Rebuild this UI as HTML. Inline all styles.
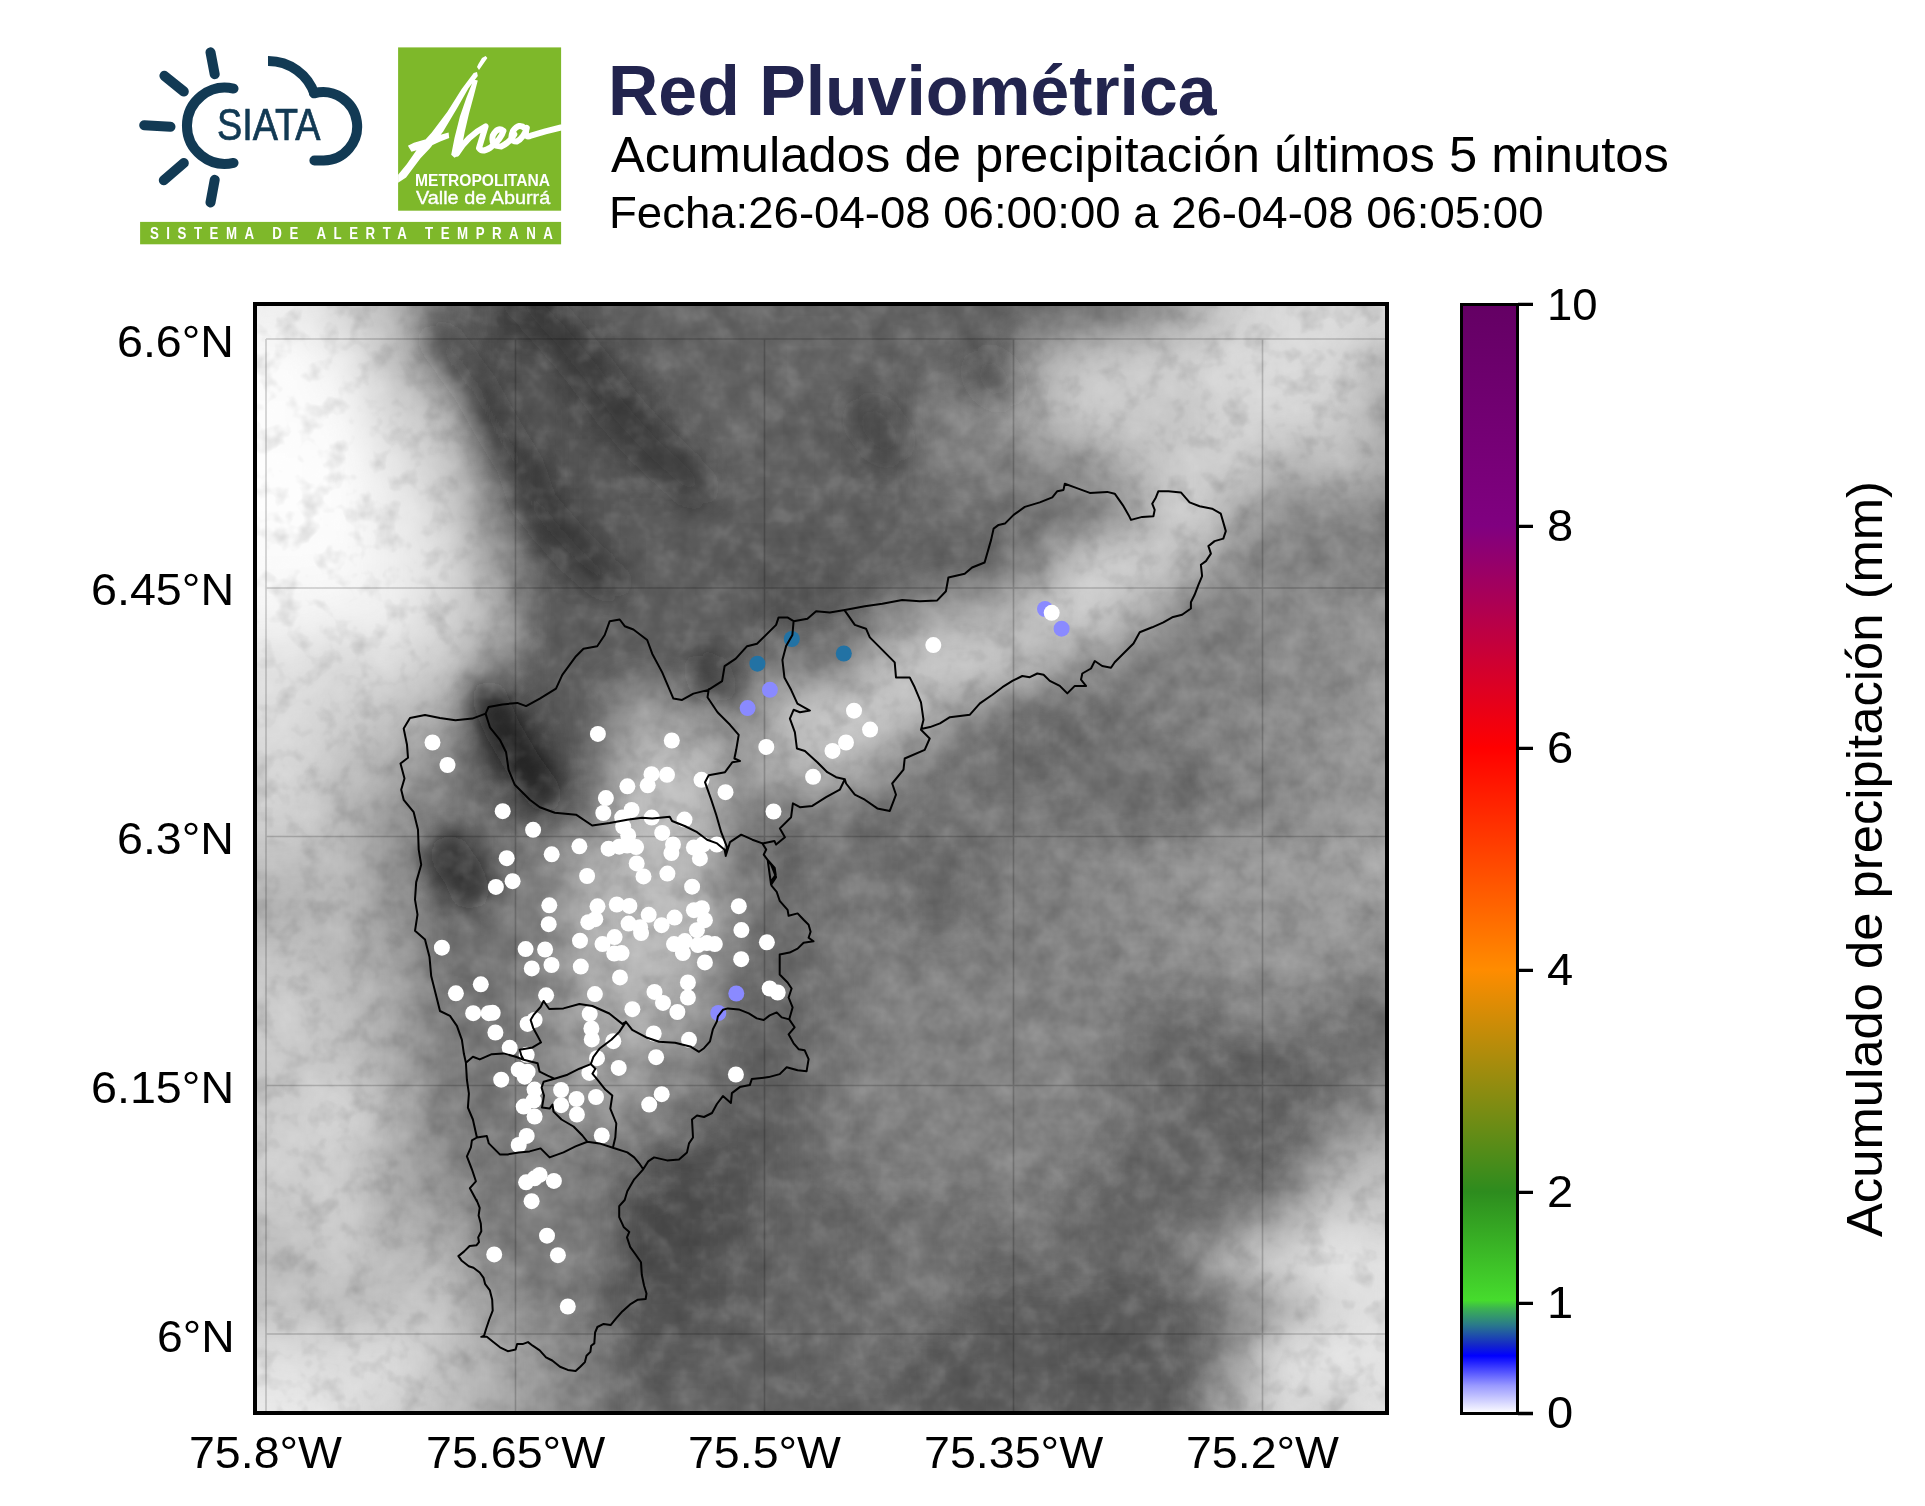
<!DOCTYPE html>
<html><head><meta charset="utf-8"><title>Red Pluviométrica</title>
<style>
html,body{margin:0;padding:0;background:#fff}
body{width:1925px;height:1506px;position:relative;overflow:hidden;font-family:"Liberation Sans",sans-serif}
.t{position:absolute;white-space:nowrap;transform-origin:0 0;font-family:"Liberation Sans",sans-serif}
svg{position:absolute;left:0;top:0}
</style></head><body>

<div class="t" style="left:608.00px;top:56.24px;font-size:70.00px;line-height:70.00px;color:#22244e;font-weight:bold;transform:scaleX(0.9963)">Red Pluviométrica</div>
<div class="t" style="left:611.00px;top:130.18px;font-size:50.00px;line-height:50.00px;color:#000;transform:scaleX(1.0151)">Acumulados de precipitación últimos 5 minutos</div>
<div class="t" style="left:609.00px;top:191.33px;font-size:44.50px;line-height:44.50px;color:#000;transform:scaleX(1.0236)">Fecha:26-04-08 06:00:00 a 26-04-08 06:05:00</div>
<svg width="1925" height="1506" viewBox="0 0 1925 1506">

<defs><clipPath id="mc"><rect x="255" y="304" width="1132" height="1109"/></clipPath><filter id="tb" x="-5%" y="-5%" width="110%" height="110%"><feGaussianBlur stdDeviation="20"/></filter><filter id="fb" x="-20%" y="-20%" width="140%" height="140%"><feGaussianBlur stdDeviation="14"/></filter></defs>
<g clip-path="url(#mc)"><g filter="url(#tb)" shape-rendering="crispEdges">
<rect x="166.4" y="239.5" width="100.2" height="50.4" fill="#f0f0f0"/>
<rect x="266.0" y="239.5" width="50.4" height="50.4" fill="#eeeeee"/>
<rect x="315.8" y="239.5" width="50.4" height="50.4" fill="#d7d7d7"/>
<rect x="365.6" y="239.5" width="50.4" height="50.4" fill="#b9b9b9"/>
<rect x="415.4" y="239.5" width="50.4" height="50.4" fill="#696969"/>
<rect x="465.2" y="239.5" width="50.4" height="50.4" fill="#464646"/>
<rect x="515.0" y="239.5" width="50.4" height="50.4" fill="#414141"/>
<rect x="564.8" y="239.5" width="50.4" height="50.4" fill="#5f5f5f"/>
<rect x="614.6" y="239.5" width="399.0" height="50.4" fill="#646464"/>
<rect x="1013.0" y="239.5" width="50.4" height="50.4" fill="#696969"/>
<rect x="1062.8" y="239.5" width="50.4" height="50.4" fill="#6e6e6e"/>
<rect x="1112.6" y="239.5" width="50.4" height="50.4" fill="#828282"/>
<rect x="1162.4" y="239.5" width="50.4" height="50.4" fill="#a5a5a5"/>
<rect x="1212.2" y="239.5" width="50.4" height="50.4" fill="#cdcdcd"/>
<rect x="1262.0" y="239.5" width="50.4" height="50.4" fill="#dadada"/>
<rect x="1311.8" y="239.5" width="50.4" height="50.4" fill="#dcdcdc"/>
<rect x="1361.6" y="239.5" width="100.2" height="50.4" fill="#d7d7d7"/>
<rect x="166.4" y="289.2" width="100.2" height="50.4" fill="#f0f0f0"/>
<rect x="266.0" y="289.2" width="50.4" height="50.4" fill="#eeeeee"/>
<rect x="315.8" y="289.2" width="50.4" height="50.4" fill="#d7d7d7"/>
<rect x="365.6" y="289.2" width="50.4" height="50.4" fill="#b9b9b9"/>
<rect x="415.4" y="289.2" width="50.4" height="50.4" fill="#696969"/>
<rect x="465.2" y="289.2" width="50.4" height="50.4" fill="#464646"/>
<rect x="515.0" y="289.2" width="50.4" height="50.4" fill="#414141"/>
<rect x="564.8" y="289.2" width="50.4" height="50.4" fill="#5f5f5f"/>
<rect x="614.6" y="289.2" width="399.0" height="50.4" fill="#646464"/>
<rect x="1013.0" y="289.2" width="50.4" height="50.4" fill="#696969"/>
<rect x="1062.8" y="289.2" width="50.4" height="50.4" fill="#6e6e6e"/>
<rect x="1112.6" y="289.2" width="50.4" height="50.4" fill="#828282"/>
<rect x="1162.4" y="289.2" width="50.4" height="50.4" fill="#a5a5a5"/>
<rect x="1212.2" y="289.2" width="50.4" height="50.4" fill="#cdcdcd"/>
<rect x="1262.0" y="289.2" width="50.4" height="50.4" fill="#dadada"/>
<rect x="1311.8" y="289.2" width="50.4" height="50.4" fill="#dcdcdc"/>
<rect x="1361.6" y="289.2" width="100.2" height="50.4" fill="#d7d7d7"/>
<rect x="166.4" y="339.0" width="100.2" height="50.4" fill="#fafafa"/>
<rect x="266.0" y="339.0" width="50.4" height="50.4" fill="#fcfcfc"/>
<rect x="315.8" y="339.0" width="50.4" height="50.4" fill="#f0f0f0"/>
<rect x="365.6" y="339.0" width="50.4" height="50.4" fill="#c3c3c3"/>
<rect x="415.4" y="339.0" width="50.4" height="50.4" fill="#878787"/>
<rect x="465.2" y="339.0" width="50.4" height="50.4" fill="#4e4e4e"/>
<rect x="515.0" y="339.0" width="50.4" height="50.4" fill="#555555"/>
<rect x="564.8" y="339.0" width="50.4" height="50.4" fill="#464646"/>
<rect x="614.6" y="339.0" width="50.4" height="50.4" fill="#5f5f5f"/>
<rect x="664.4" y="339.0" width="100.2" height="50.4" fill="#646464"/>
<rect x="764.0" y="339.0" width="100.2" height="50.4" fill="#696969"/>
<rect x="863.6" y="339.0" width="50.4" height="50.4" fill="#646464"/>
<rect x="913.4" y="339.0" width="50.4" height="50.4" fill="#6e6e6e"/>
<rect x="963.2" y="339.0" width="50.4" height="50.4" fill="#555555"/>
<rect x="1013.0" y="339.0" width="50.4" height="50.4" fill="#aaaaaa"/>
<rect x="1062.8" y="339.0" width="50.4" height="50.4" fill="#c8c8c8"/>
<rect x="1112.6" y="339.0" width="50.4" height="50.4" fill="#cdcdcd"/>
<rect x="1162.4" y="339.0" width="50.4" height="50.4" fill="#d2d2d2"/>
<rect x="1212.2" y="339.0" width="100.2" height="50.4" fill="#dadada"/>
<rect x="1311.8" y="339.0" width="50.4" height="50.4" fill="#d7d7d7"/>
<rect x="1361.6" y="339.0" width="100.2" height="50.4" fill="#afafaf"/>
<rect x="166.4" y="388.8" width="150.0" height="50.4" fill="#fcfcfc"/>
<rect x="315.8" y="388.8" width="50.4" height="50.4" fill="#f8f8f8"/>
<rect x="365.6" y="388.8" width="50.4" height="50.4" fill="#d7d7d7"/>
<rect x="415.4" y="388.8" width="50.4" height="50.4" fill="#bebebe"/>
<rect x="465.2" y="388.8" width="50.4" height="50.4" fill="#555555"/>
<rect x="515.0" y="388.8" width="50.4" height="50.4" fill="#5a5a5a"/>
<rect x="564.8" y="388.8" width="50.4" height="50.4" fill="#4b4b4b"/>
<rect x="614.6" y="388.8" width="50.4" height="50.4" fill="#464646"/>
<rect x="664.4" y="388.8" width="50.4" height="50.4" fill="#646464"/>
<rect x="714.2" y="388.8" width="50.4" height="50.4" fill="#696969"/>
<rect x="764.0" y="388.8" width="50.4" height="50.4" fill="#646464"/>
<rect x="813.8" y="388.8" width="50.4" height="50.4" fill="#5f5f5f"/>
<rect x="863.6" y="388.8" width="50.4" height="50.4" fill="#505050"/>
<rect x="913.4" y="388.8" width="50.4" height="50.4" fill="#828282"/>
<rect x="963.2" y="388.8" width="50.4" height="50.4" fill="#8c8c8c"/>
<rect x="1013.0" y="388.8" width="50.4" height="50.4" fill="#afafaf"/>
<rect x="1062.8" y="388.8" width="50.4" height="50.4" fill="#cdcdcd"/>
<rect x="1112.6" y="388.8" width="50.4" height="50.4" fill="#c8c8c8"/>
<rect x="1162.4" y="388.8" width="50.4" height="50.4" fill="#c3c3c3"/>
<rect x="1212.2" y="388.8" width="100.2" height="50.4" fill="#d7d7d7"/>
<rect x="1311.8" y="388.8" width="50.4" height="50.4" fill="#cdcdcd"/>
<rect x="1361.6" y="388.8" width="100.2" height="50.4" fill="#a5a5a5"/>
<rect x="166.4" y="438.5" width="150.0" height="50.4" fill="#fdfdfd"/>
<rect x="315.8" y="438.5" width="50.4" height="50.4" fill="#fcfcfc"/>
<rect x="365.6" y="438.5" width="50.4" height="50.4" fill="#e6e6e6"/>
<rect x="415.4" y="438.5" width="50.4" height="50.4" fill="#cdcdcd"/>
<rect x="465.2" y="438.5" width="50.4" height="50.4" fill="#6e6e6e"/>
<rect x="515.0" y="438.5" width="50.4" height="50.4" fill="#464646"/>
<rect x="564.8" y="438.5" width="50.4" height="50.4" fill="#5f5f5f"/>
<rect x="614.6" y="438.5" width="50.4" height="50.4" fill="#4b4b4b"/>
<rect x="664.4" y="438.5" width="50.4" height="50.4" fill="#555555"/>
<rect x="714.2" y="438.5" width="50.4" height="50.4" fill="#696969"/>
<rect x="764.0" y="438.5" width="50.4" height="50.4" fill="#646464"/>
<rect x="813.8" y="438.5" width="50.4" height="50.4" fill="#5f5f5f"/>
<rect x="863.6" y="438.5" width="50.4" height="50.4" fill="#555555"/>
<rect x="913.4" y="438.5" width="50.4" height="50.4" fill="#7d7d7d"/>
<rect x="963.2" y="438.5" width="50.4" height="50.4" fill="#828282"/>
<rect x="1013.0" y="438.5" width="50.4" height="50.4" fill="#8c8c8c"/>
<rect x="1062.8" y="438.5" width="50.4" height="50.4" fill="#919191"/>
<rect x="1112.6" y="438.5" width="50.4" height="50.4" fill="#b9b9b9"/>
<rect x="1162.4" y="438.5" width="100.2" height="50.4" fill="#cdcdcd"/>
<rect x="1262.0" y="438.5" width="50.4" height="50.4" fill="#afafaf"/>
<rect x="1311.8" y="438.5" width="50.4" height="50.4" fill="#bebebe"/>
<rect x="1361.6" y="438.5" width="100.2" height="50.4" fill="#aaaaaa"/>
<rect x="166.4" y="488.2" width="150.0" height="50.4" fill="#fdfdfd"/>
<rect x="315.8" y="488.2" width="50.4" height="50.4" fill="#fcfcfc"/>
<rect x="365.6" y="488.2" width="50.4" height="50.4" fill="#eeeeee"/>
<rect x="415.4" y="488.2" width="50.4" height="50.4" fill="#d7d7d7"/>
<rect x="465.2" y="488.2" width="50.4" height="50.4" fill="#8c8c8c"/>
<rect x="515.0" y="488.2" width="50.4" height="50.4" fill="#3c3c3c"/>
<rect x="564.8" y="488.2" width="50.4" height="50.4" fill="#555555"/>
<rect x="614.6" y="488.2" width="50.4" height="50.4" fill="#5f5f5f"/>
<rect x="664.4" y="488.2" width="50.4" height="50.4" fill="#5a5a5a"/>
<rect x="714.2" y="488.2" width="100.2" height="50.4" fill="#5f5f5f"/>
<rect x="813.8" y="488.2" width="100.2" height="50.4" fill="#646464"/>
<rect x="913.4" y="488.2" width="150.0" height="50.4" fill="#6e6e6e"/>
<rect x="1062.8" y="488.2" width="50.4" height="50.4" fill="#707070"/>
<rect x="1112.6" y="488.2" width="50.4" height="50.4" fill="#a0a0a0"/>
<rect x="1162.4" y="488.2" width="50.4" height="50.4" fill="#d7d7d7"/>
<rect x="1212.2" y="488.2" width="50.4" height="50.4" fill="#a5a5a5"/>
<rect x="1262.0" y="488.2" width="199.8" height="50.4" fill="#878787"/>
<rect x="166.4" y="538.0" width="199.8" height="50.4" fill="#fafafa"/>
<rect x="365.6" y="538.0" width="50.4" height="50.4" fill="#eeeeee"/>
<rect x="415.4" y="538.0" width="50.4" height="50.4" fill="#e1e1e1"/>
<rect x="465.2" y="538.0" width="50.4" height="50.4" fill="#a0a0a0"/>
<rect x="515.0" y="538.0" width="50.4" height="50.4" fill="#555555"/>
<rect x="564.8" y="538.0" width="50.4" height="50.4" fill="#505050"/>
<rect x="614.6" y="538.0" width="100.2" height="50.4" fill="#5f5f5f"/>
<rect x="714.2" y="538.0" width="150.0" height="50.4" fill="#5a5a5a"/>
<rect x="863.6" y="538.0" width="100.2" height="50.4" fill="#5f5f5f"/>
<rect x="963.2" y="538.0" width="50.4" height="50.4" fill="#646464"/>
<rect x="1013.0" y="538.0" width="50.4" height="50.4" fill="#8c8c8c"/>
<rect x="1062.8" y="538.0" width="50.4" height="50.4" fill="#cdcdcd"/>
<rect x="1112.6" y="538.0" width="50.4" height="50.4" fill="#d2d2d2"/>
<rect x="1162.4" y="538.0" width="50.4" height="50.4" fill="#b9b9b9"/>
<rect x="1212.2" y="538.0" width="100.2" height="50.4" fill="#878787"/>
<rect x="1311.8" y="538.0" width="50.4" height="50.4" fill="#828282"/>
<rect x="1361.6" y="538.0" width="100.2" height="50.4" fill="#7d7d7d"/>
<rect x="166.4" y="587.8" width="150.0" height="50.4" fill="#f5f5f5"/>
<rect x="315.8" y="587.8" width="50.4" height="50.4" fill="#f2f2f2"/>
<rect x="365.6" y="587.8" width="50.4" height="50.4" fill="#f0f0f0"/>
<rect x="415.4" y="587.8" width="50.4" height="50.4" fill="#d7d7d7"/>
<rect x="465.2" y="587.8" width="50.4" height="50.4" fill="#b9b9b9"/>
<rect x="515.0" y="587.8" width="50.4" height="50.4" fill="#5a5a5a"/>
<rect x="564.8" y="587.8" width="100.2" height="50.4" fill="#5f5f5f"/>
<rect x="664.4" y="587.8" width="100.2" height="50.4" fill="#646464"/>
<rect x="764.0" y="587.8" width="50.4" height="50.4" fill="#505050"/>
<rect x="813.8" y="587.8" width="50.4" height="50.4" fill="#5f5f5f"/>
<rect x="863.6" y="587.8" width="50.4" height="50.4" fill="#787878"/>
<rect x="913.4" y="587.8" width="50.4" height="50.4" fill="#a0a0a0"/>
<rect x="963.2" y="587.8" width="50.4" height="50.4" fill="#a5a5a5"/>
<rect x="1013.0" y="587.8" width="50.4" height="50.4" fill="#c3c3c3"/>
<rect x="1062.8" y="587.8" width="50.4" height="50.4" fill="#d2d2d2"/>
<rect x="1112.6" y="587.8" width="50.4" height="50.4" fill="#afafaf"/>
<rect x="1162.4" y="587.8" width="50.4" height="50.4" fill="#828282"/>
<rect x="1212.2" y="587.8" width="50.4" height="50.4" fill="#7d7d7d"/>
<rect x="1262.0" y="587.8" width="50.4" height="50.4" fill="#8c8c8c"/>
<rect x="1311.8" y="587.8" width="50.4" height="50.4" fill="#919191"/>
<rect x="1361.6" y="587.8" width="100.2" height="50.4" fill="#969696"/>
<rect x="166.4" y="637.5" width="150.0" height="50.4" fill="#e1e1e1"/>
<rect x="315.8" y="637.5" width="50.4" height="50.4" fill="#d7d7d7"/>
<rect x="365.6" y="637.5" width="50.4" height="50.4" fill="#dcdcdc"/>
<rect x="415.4" y="637.5" width="50.4" height="50.4" fill="#cdcdcd"/>
<rect x="465.2" y="637.5" width="50.4" height="50.4" fill="#969696"/>
<rect x="515.0" y="637.5" width="50.4" height="50.4" fill="#5a5a5a"/>
<rect x="564.8" y="637.5" width="100.2" height="50.4" fill="#5f5f5f"/>
<rect x="664.4" y="637.5" width="50.4" height="50.4" fill="#5a5a5a"/>
<rect x="714.2" y="637.5" width="50.4" height="50.4" fill="#555555"/>
<rect x="764.0" y="637.5" width="50.4" height="50.4" fill="#828282"/>
<rect x="813.8" y="637.5" width="50.4" height="50.4" fill="#787878"/>
<rect x="863.6" y="637.5" width="50.4" height="50.4" fill="#bebebe"/>
<rect x="913.4" y="637.5" width="100.2" height="50.4" fill="#cdcdcd"/>
<rect x="1013.0" y="637.5" width="50.4" height="50.4" fill="#b4b4b4"/>
<rect x="1062.8" y="637.5" width="50.4" height="50.4" fill="#8c8c8c"/>
<rect x="1112.6" y="637.5" width="150.0" height="50.4" fill="#7d7d7d"/>
<rect x="1262.0" y="637.5" width="50.4" height="50.4" fill="#8c8c8c"/>
<rect x="1311.8" y="637.5" width="50.4" height="50.4" fill="#878787"/>
<rect x="1361.6" y="637.5" width="100.2" height="50.4" fill="#9b9b9b"/>
<rect x="166.4" y="687.2" width="150.0" height="50.4" fill="#dcdcdc"/>
<rect x="315.8" y="687.2" width="50.4" height="50.4" fill="#d2d2d2"/>
<rect x="365.6" y="687.2" width="50.4" height="50.4" fill="#c3c3c3"/>
<rect x="415.4" y="687.2" width="50.4" height="50.4" fill="#aaaaaa"/>
<rect x="465.2" y="687.2" width="50.4" height="50.4" fill="#464646"/>
<rect x="515.0" y="687.2" width="50.4" height="50.4" fill="#555555"/>
<rect x="564.8" y="687.2" width="50.4" height="50.4" fill="#646464"/>
<rect x="614.6" y="687.2" width="50.4" height="50.4" fill="#a0a0a0"/>
<rect x="664.4" y="687.2" width="50.4" height="50.4" fill="#8c8c8c"/>
<rect x="714.2" y="687.2" width="50.4" height="50.4" fill="#828282"/>
<rect x="764.0" y="687.2" width="50.4" height="50.4" fill="#b9b9b9"/>
<rect x="813.8" y="687.2" width="50.4" height="50.4" fill="#cdcdcd"/>
<rect x="863.6" y="687.2" width="50.4" height="50.4" fill="#c8c8c8"/>
<rect x="913.4" y="687.2" width="50.4" height="50.4" fill="#a5a5a5"/>
<rect x="963.2" y="687.2" width="50.4" height="50.4" fill="#7d7d7d"/>
<rect x="1013.0" y="687.2" width="100.2" height="50.4" fill="#696969"/>
<rect x="1112.6" y="687.2" width="50.4" height="50.4" fill="#7d7d7d"/>
<rect x="1162.4" y="687.2" width="50.4" height="50.4" fill="#828282"/>
<rect x="1212.2" y="687.2" width="50.4" height="50.4" fill="#878787"/>
<rect x="1262.0" y="687.2" width="50.4" height="50.4" fill="#919191"/>
<rect x="1311.8" y="687.2" width="50.4" height="50.4" fill="#8c8c8c"/>
<rect x="1361.6" y="687.2" width="100.2" height="50.4" fill="#a0a0a0"/>
<rect x="166.4" y="737.0" width="150.0" height="50.4" fill="#d7d7d7"/>
<rect x="315.8" y="737.0" width="50.4" height="50.4" fill="#c3c3c3"/>
<rect x="365.6" y="737.0" width="50.4" height="50.4" fill="#aaaaaa"/>
<rect x="415.4" y="737.0" width="50.4" height="50.4" fill="#8c8c8c"/>
<rect x="465.2" y="737.0" width="50.4" height="50.4" fill="#4b4b4b"/>
<rect x="515.0" y="737.0" width="50.4" height="50.4" fill="#3c3c3c"/>
<rect x="564.8" y="737.0" width="50.4" height="50.4" fill="#646464"/>
<rect x="614.6" y="737.0" width="50.4" height="50.4" fill="#b9b9b9"/>
<rect x="664.4" y="737.0" width="50.4" height="50.4" fill="#bebebe"/>
<rect x="714.2" y="737.0" width="50.4" height="50.4" fill="#969696"/>
<rect x="764.0" y="737.0" width="100.2" height="50.4" fill="#b9b9b9"/>
<rect x="863.6" y="737.0" width="50.4" height="50.4" fill="#969696"/>
<rect x="913.4" y="737.0" width="50.4" height="50.4" fill="#787878"/>
<rect x="963.2" y="737.0" width="100.2" height="50.4" fill="#696969"/>
<rect x="1062.8" y="737.0" width="150.0" height="50.4" fill="#737373"/>
<rect x="1212.2" y="737.0" width="100.2" height="50.4" fill="#878787"/>
<rect x="1311.8" y="737.0" width="50.4" height="50.4" fill="#969696"/>
<rect x="1361.6" y="737.0" width="100.2" height="50.4" fill="#9b9b9b"/>
<rect x="166.4" y="786.8" width="150.0" height="50.4" fill="#d2d2d2"/>
<rect x="315.8" y="786.8" width="50.4" height="50.4" fill="#b9b9b9"/>
<rect x="365.6" y="786.8" width="50.4" height="50.4" fill="#969696"/>
<rect x="415.4" y="786.8" width="50.4" height="50.4" fill="#7d7d7d"/>
<rect x="465.2" y="786.8" width="50.4" height="50.4" fill="#6e6e6e"/>
<rect x="515.0" y="786.8" width="50.4" height="50.4" fill="#5f5f5f"/>
<rect x="564.8" y="786.8" width="50.4" height="50.4" fill="#787878"/>
<rect x="614.6" y="786.8" width="50.4" height="50.4" fill="#bebebe"/>
<rect x="664.4" y="786.8" width="50.4" height="50.4" fill="#c3c3c3"/>
<rect x="714.2" y="786.8" width="50.4" height="50.4" fill="#828282"/>
<rect x="764.0" y="786.8" width="100.2" height="50.4" fill="#787878"/>
<rect x="863.6" y="786.8" width="50.4" height="50.4" fill="#696969"/>
<rect x="913.4" y="786.8" width="150.0" height="50.4" fill="#787878"/>
<rect x="1062.8" y="786.8" width="50.4" height="50.4" fill="#737373"/>
<rect x="1112.6" y="786.8" width="50.4" height="50.4" fill="#6e6e6e"/>
<rect x="1162.4" y="786.8" width="50.4" height="50.4" fill="#696969"/>
<rect x="1212.2" y="786.8" width="100.2" height="50.4" fill="#828282"/>
<rect x="1311.8" y="786.8" width="150.0" height="50.4" fill="#969696"/>
<rect x="166.4" y="836.5" width="150.0" height="50.4" fill="#bebebe"/>
<rect x="315.8" y="836.5" width="50.4" height="50.4" fill="#b9b9b9"/>
<rect x="365.6" y="836.5" width="50.4" height="50.4" fill="#969696"/>
<rect x="415.4" y="836.5" width="50.4" height="50.4" fill="#505050"/>
<rect x="465.2" y="836.5" width="50.4" height="50.4" fill="#6e6e6e"/>
<rect x="515.0" y="836.5" width="50.4" height="50.4" fill="#828282"/>
<rect x="564.8" y="836.5" width="50.4" height="50.4" fill="#a8a8a8"/>
<rect x="614.6" y="836.5" width="100.2" height="50.4" fill="#b7b7b7"/>
<rect x="714.2" y="836.5" width="50.4" height="50.4" fill="#787878"/>
<rect x="764.0" y="836.5" width="50.4" height="50.4" fill="#646464"/>
<rect x="813.8" y="836.5" width="50.4" height="50.4" fill="#797979"/>
<rect x="863.6" y="836.5" width="50.4" height="50.4" fill="#6f6f6f"/>
<rect x="913.4" y="836.5" width="50.4" height="50.4" fill="#656565"/>
<rect x="963.2" y="836.5" width="50.4" height="50.4" fill="#747474"/>
<rect x="1013.0" y="836.5" width="100.2" height="50.4" fill="#838383"/>
<rect x="1112.6" y="836.5" width="50.4" height="50.4" fill="#8c8c8c"/>
<rect x="1162.4" y="836.5" width="50.4" height="50.4" fill="#969696"/>
<rect x="1212.2" y="836.5" width="150.0" height="50.4" fill="#9b9b9b"/>
<rect x="1361.6" y="836.5" width="100.2" height="50.4" fill="#afafaf"/>
<rect x="166.4" y="886.2" width="150.0" height="50.4" fill="#afafaf"/>
<rect x="315.8" y="886.2" width="50.4" height="50.4" fill="#b9b9b9"/>
<rect x="365.6" y="886.2" width="50.4" height="50.4" fill="#969696"/>
<rect x="415.4" y="886.2" width="100.2" height="50.4" fill="#737373"/>
<rect x="515.0" y="886.2" width="50.4" height="50.4" fill="#828282"/>
<rect x="564.8" y="886.2" width="50.4" height="50.4" fill="#adadad"/>
<rect x="614.6" y="886.2" width="100.2" height="50.4" fill="#bcbcbc"/>
<rect x="714.2" y="886.2" width="50.4" height="50.4" fill="#828282"/>
<rect x="764.0" y="886.2" width="50.4" height="50.4" fill="#696969"/>
<rect x="813.8" y="886.2" width="50.4" height="50.4" fill="#7e7e7e"/>
<rect x="863.6" y="886.2" width="50.4" height="50.4" fill="#797979"/>
<rect x="913.4" y="886.2" width="50.4" height="50.4" fill="#656565"/>
<rect x="963.2" y="886.2" width="50.4" height="50.4" fill="#797979"/>
<rect x="1013.0" y="886.2" width="50.4" height="50.4" fill="#7e7e7e"/>
<rect x="1062.8" y="886.2" width="50.4" height="50.4" fill="#888888"/>
<rect x="1112.6" y="886.2" width="50.4" height="50.4" fill="#8c8c8c"/>
<rect x="1162.4" y="886.2" width="50.4" height="50.4" fill="#919191"/>
<rect x="1212.2" y="886.2" width="100.2" height="50.4" fill="#969696"/>
<rect x="1311.8" y="886.2" width="50.4" height="50.4" fill="#9b9b9b"/>
<rect x="1361.6" y="886.2" width="100.2" height="50.4" fill="#969696"/>
<rect x="166.4" y="936.0" width="150.0" height="50.4" fill="#c3c3c3"/>
<rect x="315.8" y="936.0" width="50.4" height="50.4" fill="#b4b4b4"/>
<rect x="365.6" y="936.0" width="50.4" height="50.4" fill="#a5a5a5"/>
<rect x="415.4" y="936.0" width="50.4" height="50.4" fill="#6e6e6e"/>
<rect x="465.2" y="936.0" width="50.4" height="50.4" fill="#737373"/>
<rect x="515.0" y="936.0" width="50.4" height="50.4" fill="#828282"/>
<rect x="564.8" y="936.0" width="50.4" height="50.4" fill="#a8a8a8"/>
<rect x="614.6" y="936.0" width="50.4" height="50.4" fill="#bcbcbc"/>
<rect x="664.4" y="936.0" width="50.4" height="50.4" fill="#adadad"/>
<rect x="714.2" y="936.0" width="50.4" height="50.4" fill="#6e6e6e"/>
<rect x="764.0" y="936.0" width="50.4" height="50.4" fill="#696969"/>
<rect x="813.8" y="936.0" width="50.4" height="50.4" fill="#797979"/>
<rect x="863.6" y="936.0" width="50.4" height="50.4" fill="#838383"/>
<rect x="913.4" y="936.0" width="50.4" height="50.4" fill="#7e7e7e"/>
<rect x="963.2" y="936.0" width="50.4" height="50.4" fill="#838383"/>
<rect x="1013.0" y="936.0" width="50.4" height="50.4" fill="#7e7e7e"/>
<rect x="1062.8" y="936.0" width="50.4" height="50.4" fill="#838383"/>
<rect x="1112.6" y="936.0" width="50.4" height="50.4" fill="#878787"/>
<rect x="1162.4" y="936.0" width="50.4" height="50.4" fill="#8c8c8c"/>
<rect x="1212.2" y="936.0" width="50.4" height="50.4" fill="#919191"/>
<rect x="1262.0" y="936.0" width="100.2" height="50.4" fill="#969696"/>
<rect x="1361.6" y="936.0" width="100.2" height="50.4" fill="#878787"/>
<rect x="166.4" y="985.8" width="150.0" height="50.4" fill="#cdcdcd"/>
<rect x="315.8" y="985.8" width="50.4" height="50.4" fill="#bebebe"/>
<rect x="365.6" y="985.8" width="50.4" height="50.4" fill="#aaaaaa"/>
<rect x="415.4" y="985.8" width="50.4" height="50.4" fill="#7d7d7d"/>
<rect x="465.2" y="985.8" width="50.4" height="50.4" fill="#737373"/>
<rect x="515.0" y="985.8" width="50.4" height="50.4" fill="#878787"/>
<rect x="564.8" y="985.8" width="50.4" height="50.4" fill="#a3a3a3"/>
<rect x="614.6" y="985.8" width="50.4" height="50.4" fill="#b2b2b2"/>
<rect x="664.4" y="985.8" width="50.4" height="50.4" fill="#9e9e9e"/>
<rect x="714.2" y="985.8" width="50.4" height="50.4" fill="#646464"/>
<rect x="764.0" y="985.8" width="50.4" height="50.4" fill="#696969"/>
<rect x="813.8" y="985.8" width="50.4" height="50.4" fill="#747474"/>
<rect x="863.6" y="985.8" width="249.6" height="50.4" fill="#838383"/>
<rect x="1112.6" y="985.8" width="50.4" height="50.4" fill="#787878"/>
<rect x="1162.4" y="985.8" width="50.4" height="50.4" fill="#6e6e6e"/>
<rect x="1212.2" y="985.8" width="50.4" height="50.4" fill="#828282"/>
<rect x="1262.0" y="985.8" width="50.4" height="50.4" fill="#878787"/>
<rect x="1311.8" y="985.8" width="50.4" height="50.4" fill="#787878"/>
<rect x="1361.6" y="985.8" width="100.2" height="50.4" fill="#6e6e6e"/>
<rect x="166.4" y="1035.5" width="150.0" height="50.4" fill="#c8c8c8"/>
<rect x="315.8" y="1035.5" width="50.4" height="50.4" fill="#c3c3c3"/>
<rect x="365.6" y="1035.5" width="50.4" height="50.4" fill="#a5a5a5"/>
<rect x="415.4" y="1035.5" width="50.4" height="50.4" fill="#828282"/>
<rect x="465.2" y="1035.5" width="50.4" height="50.4" fill="#737373"/>
<rect x="515.0" y="1035.5" width="50.4" height="50.4" fill="#878787"/>
<rect x="564.8" y="1035.5" width="50.4" height="50.4" fill="#a0a0a0"/>
<rect x="614.6" y="1035.5" width="50.4" height="50.4" fill="#9b9b9b"/>
<rect x="664.4" y="1035.5" width="50.4" height="50.4" fill="#828282"/>
<rect x="714.2" y="1035.5" width="100.2" height="50.4" fill="#646464"/>
<rect x="813.8" y="1035.5" width="50.4" height="50.4" fill="#797979"/>
<rect x="863.6" y="1035.5" width="249.6" height="50.4" fill="#838383"/>
<rect x="1112.6" y="1035.5" width="50.4" height="50.4" fill="#6e6e6e"/>
<rect x="1162.4" y="1035.5" width="50.4" height="50.4" fill="#696969"/>
<rect x="1212.2" y="1035.5" width="100.2" height="50.4" fill="#5f5f5f"/>
<rect x="1311.8" y="1035.5" width="50.4" height="50.4" fill="#6e6e6e"/>
<rect x="1361.6" y="1035.5" width="100.2" height="50.4" fill="#737373"/>
<rect x="166.4" y="1085.2" width="150.0" height="50.4" fill="#cbcbcb"/>
<rect x="315.8" y="1085.2" width="50.4" height="50.4" fill="#dadada"/>
<rect x="365.6" y="1085.2" width="50.4" height="50.4" fill="#b2b2b2"/>
<rect x="415.4" y="1085.2" width="50.4" height="50.4" fill="#828282"/>
<rect x="465.2" y="1085.2" width="50.4" height="50.4" fill="#6e6e6e"/>
<rect x="515.0" y="1085.2" width="50.4" height="50.4" fill="#8c8c8c"/>
<rect x="564.8" y="1085.2" width="50.4" height="50.4" fill="#969696"/>
<rect x="614.6" y="1085.2" width="50.4" height="50.4" fill="#919191"/>
<rect x="664.4" y="1085.2" width="50.4" height="50.4" fill="#787878"/>
<rect x="714.2" y="1085.2" width="50.4" height="50.4" fill="#5f5f5f"/>
<rect x="764.0" y="1085.2" width="50.4" height="50.4" fill="#646464"/>
<rect x="813.8" y="1085.2" width="50.4" height="50.4" fill="#797979"/>
<rect x="863.6" y="1085.2" width="249.6" height="50.4" fill="#838383"/>
<rect x="1112.6" y="1085.2" width="50.4" height="50.4" fill="#737373"/>
<rect x="1162.4" y="1085.2" width="50.4" height="50.4" fill="#696969"/>
<rect x="1212.2" y="1085.2" width="100.2" height="50.4" fill="#646464"/>
<rect x="1311.8" y="1085.2" width="50.4" height="50.4" fill="#787878"/>
<rect x="1361.6" y="1085.2" width="100.2" height="50.4" fill="#969696"/>
<rect x="166.4" y="1135.0" width="150.0" height="50.4" fill="#d0d0d0"/>
<rect x="315.8" y="1135.0" width="50.4" height="50.4" fill="#cbcbcb"/>
<rect x="365.6" y="1135.0" width="50.4" height="50.4" fill="#adadad"/>
<rect x="415.4" y="1135.0" width="50.4" height="50.4" fill="#8c8c8c"/>
<rect x="465.2" y="1135.0" width="50.4" height="50.4" fill="#737373"/>
<rect x="515.0" y="1135.0" width="50.4" height="50.4" fill="#828282"/>
<rect x="564.8" y="1135.0" width="50.4" height="50.4" fill="#7d7d7d"/>
<rect x="614.6" y="1135.0" width="50.4" height="50.4" fill="#646464"/>
<rect x="664.4" y="1135.0" width="50.4" height="50.4" fill="#505050"/>
<rect x="714.2" y="1135.0" width="50.4" height="50.4" fill="#555555"/>
<rect x="764.0" y="1135.0" width="50.4" height="50.4" fill="#646464"/>
<rect x="813.8" y="1135.0" width="50.4" height="50.4" fill="#797979"/>
<rect x="863.6" y="1135.0" width="50.4" height="50.4" fill="#7e7e7e"/>
<rect x="913.4" y="1135.0" width="150.0" height="50.4" fill="#838383"/>
<rect x="1062.8" y="1135.0" width="50.4" height="50.4" fill="#797979"/>
<rect x="1112.6" y="1135.0" width="150.0" height="50.4" fill="#696969"/>
<rect x="1262.0" y="1135.0" width="50.4" height="50.4" fill="#646464"/>
<rect x="1311.8" y="1135.0" width="50.4" height="50.4" fill="#a5a5a5"/>
<rect x="1361.6" y="1135.0" width="100.2" height="50.4" fill="#b9b9b9"/>
<rect x="166.4" y="1184.8" width="150.0" height="50.4" fill="#c6c6c6"/>
<rect x="315.8" y="1184.8" width="50.4" height="50.4" fill="#d0d0d0"/>
<rect x="365.6" y="1184.8" width="50.4" height="50.4" fill="#a8a8a8"/>
<rect x="415.4" y="1184.8" width="50.4" height="50.4" fill="#a0a0a0"/>
<rect x="465.2" y="1184.8" width="50.4" height="50.4" fill="#787878"/>
<rect x="515.0" y="1184.8" width="100.2" height="50.4" fill="#7d7d7d"/>
<rect x="614.6" y="1184.8" width="100.2" height="50.4" fill="#4b4b4b"/>
<rect x="714.2" y="1184.8" width="50.4" height="50.4" fill="#555555"/>
<rect x="764.0" y="1184.8" width="50.4" height="50.4" fill="#696969"/>
<rect x="813.8" y="1184.8" width="50.4" height="50.4" fill="#646464"/>
<rect x="863.6" y="1184.8" width="50.4" height="50.4" fill="#737373"/>
<rect x="913.4" y="1184.8" width="50.4" height="50.4" fill="#6e6e6e"/>
<rect x="963.2" y="1184.8" width="50.4" height="50.4" fill="#787878"/>
<rect x="1013.0" y="1184.8" width="50.4" height="50.4" fill="#7d7d7d"/>
<rect x="1062.8" y="1184.8" width="100.2" height="50.4" fill="#646464"/>
<rect x="1162.4" y="1184.8" width="100.2" height="50.4" fill="#6e6e6e"/>
<rect x="1262.0" y="1184.8" width="50.4" height="50.4" fill="#969696"/>
<rect x="1311.8" y="1184.8" width="50.4" height="50.4" fill="#cdcdcd"/>
<rect x="1361.6" y="1184.8" width="100.2" height="50.4" fill="#c8c8c8"/>
<rect x="166.4" y="1234.5" width="150.0" height="50.4" fill="#bcbcbc"/>
<rect x="315.8" y="1234.5" width="50.4" height="50.4" fill="#cbcbcb"/>
<rect x="365.6" y="1234.5" width="50.4" height="50.4" fill="#b7b7b7"/>
<rect x="415.4" y="1234.5" width="50.4" height="50.4" fill="#b9b9b9"/>
<rect x="465.2" y="1234.5" width="50.4" height="50.4" fill="#828282"/>
<rect x="515.0" y="1234.5" width="100.2" height="50.4" fill="#7d7d7d"/>
<rect x="614.6" y="1234.5" width="50.4" height="50.4" fill="#464646"/>
<rect x="664.4" y="1234.5" width="50.4" height="50.4" fill="#505050"/>
<rect x="714.2" y="1234.5" width="50.4" height="50.4" fill="#5a5a5a"/>
<rect x="764.0" y="1234.5" width="50.4" height="50.4" fill="#696969"/>
<rect x="813.8" y="1234.5" width="50.4" height="50.4" fill="#646464"/>
<rect x="863.6" y="1234.5" width="50.4" height="50.4" fill="#737373"/>
<rect x="913.4" y="1234.5" width="50.4" height="50.4" fill="#787878"/>
<rect x="963.2" y="1234.5" width="50.4" height="50.4" fill="#696969"/>
<rect x="1013.0" y="1234.5" width="50.4" height="50.4" fill="#737373"/>
<rect x="1062.8" y="1234.5" width="50.4" height="50.4" fill="#6e6e6e"/>
<rect x="1112.6" y="1234.5" width="50.4" height="50.4" fill="#646464"/>
<rect x="1162.4" y="1234.5" width="50.4" height="50.4" fill="#7d7d7d"/>
<rect x="1212.2" y="1234.5" width="50.4" height="50.4" fill="#b9b9b9"/>
<rect x="1262.0" y="1234.5" width="50.4" height="50.4" fill="#d7d7d7"/>
<rect x="1311.8" y="1234.5" width="50.4" height="50.4" fill="#e8e8e8"/>
<rect x="1361.6" y="1234.5" width="100.2" height="50.4" fill="#dedede"/>
<rect x="166.4" y="1284.2" width="150.0" height="50.4" fill="#c1c1c1"/>
<rect x="315.8" y="1284.2" width="50.4" height="50.4" fill="#b7b7b7"/>
<rect x="365.6" y="1284.2" width="50.4" height="50.4" fill="#c1c1c1"/>
<rect x="415.4" y="1284.2" width="50.4" height="50.4" fill="#c8c8c8"/>
<rect x="465.2" y="1284.2" width="50.4" height="50.4" fill="#969696"/>
<rect x="515.0" y="1284.2" width="50.4" height="50.4" fill="#878787"/>
<rect x="564.8" y="1284.2" width="50.4" height="50.4" fill="#6e6e6e"/>
<rect x="614.6" y="1284.2" width="100.2" height="50.4" fill="#555555"/>
<rect x="714.2" y="1284.2" width="50.4" height="50.4" fill="#5f5f5f"/>
<rect x="764.0" y="1284.2" width="100.2" height="50.4" fill="#696969"/>
<rect x="863.6" y="1284.2" width="50.4" height="50.4" fill="#787878"/>
<rect x="913.4" y="1284.2" width="50.4" height="50.4" fill="#737373"/>
<rect x="963.2" y="1284.2" width="199.8" height="50.4" fill="#5a5a5a"/>
<rect x="1162.4" y="1284.2" width="50.4" height="50.4" fill="#646464"/>
<rect x="1212.2" y="1284.2" width="50.4" height="50.4" fill="#787878"/>
<rect x="1262.0" y="1284.2" width="50.4" height="50.4" fill="#aaaaaa"/>
<rect x="1311.8" y="1284.2" width="50.4" height="50.4" fill="#d7d7d7"/>
<rect x="1361.6" y="1284.2" width="100.2" height="50.4" fill="#e2e2e2"/>
<rect x="166.4" y="1334.0" width="150.0" height="50.4" fill="#dfdfdf"/>
<rect x="315.8" y="1334.0" width="50.4" height="50.4" fill="#dadada"/>
<rect x="365.6" y="1334.0" width="50.4" height="50.4" fill="#dfdfdf"/>
<rect x="415.4" y="1334.0" width="50.4" height="50.4" fill="#c3c3c3"/>
<rect x="465.2" y="1334.0" width="50.4" height="50.4" fill="#afafaf"/>
<rect x="515.0" y="1334.0" width="50.4" height="50.4" fill="#969696"/>
<rect x="564.8" y="1334.0" width="50.4" height="50.4" fill="#828282"/>
<rect x="614.6" y="1334.0" width="50.4" height="50.4" fill="#5a5a5a"/>
<rect x="664.4" y="1334.0" width="50.4" height="50.4" fill="#5f5f5f"/>
<rect x="714.2" y="1334.0" width="100.2" height="50.4" fill="#646464"/>
<rect x="813.8" y="1334.0" width="50.4" height="50.4" fill="#6e6e6e"/>
<rect x="863.6" y="1334.0" width="50.4" height="50.4" fill="#696969"/>
<rect x="913.4" y="1334.0" width="100.2" height="50.4" fill="#5a5a5a"/>
<rect x="1013.0" y="1334.0" width="50.4" height="50.4" fill="#5f5f5f"/>
<rect x="1062.8" y="1334.0" width="50.4" height="50.4" fill="#555555"/>
<rect x="1112.6" y="1334.0" width="50.4" height="50.4" fill="#5a5a5a"/>
<rect x="1162.4" y="1334.0" width="50.4" height="50.4" fill="#5f5f5f"/>
<rect x="1212.2" y="1334.0" width="50.4" height="50.4" fill="#969696"/>
<rect x="1262.0" y="1334.0" width="50.4" height="50.4" fill="#e2e2e2"/>
<rect x="1311.8" y="1334.0" width="50.4" height="50.4" fill="#e6e6e6"/>
<rect x="1361.6" y="1334.0" width="100.2" height="50.4" fill="#e1e1e1"/>
<rect x="166.4" y="1383.8" width="150.0" height="50.4" fill="#e9e9e9"/>
<rect x="315.8" y="1383.8" width="50.4" height="50.4" fill="#dfdfdf"/>
<rect x="365.6" y="1383.8" width="50.4" height="50.4" fill="#d0d0d0"/>
<rect x="415.4" y="1383.8" width="50.4" height="50.4" fill="#bebebe"/>
<rect x="465.2" y="1383.8" width="50.4" height="50.4" fill="#afafaf"/>
<rect x="515.0" y="1383.8" width="50.4" height="50.4" fill="#969696"/>
<rect x="564.8" y="1383.8" width="50.4" height="50.4" fill="#7d7d7d"/>
<rect x="614.6" y="1383.8" width="50.4" height="50.4" fill="#646464"/>
<rect x="664.4" y="1383.8" width="50.4" height="50.4" fill="#696969"/>
<rect x="714.2" y="1383.8" width="100.2" height="50.4" fill="#646464"/>
<rect x="813.8" y="1383.8" width="50.4" height="50.4" fill="#5f5f5f"/>
<rect x="863.6" y="1383.8" width="50.4" height="50.4" fill="#646464"/>
<rect x="913.4" y="1383.8" width="100.2" height="50.4" fill="#5a5a5a"/>
<rect x="1013.0" y="1383.8" width="50.4" height="50.4" fill="#646464"/>
<rect x="1062.8" y="1383.8" width="50.4" height="50.4" fill="#5a5a5a"/>
<rect x="1112.6" y="1383.8" width="50.4" height="50.4" fill="#5f5f5f"/>
<rect x="1162.4" y="1383.8" width="50.4" height="50.4" fill="#646464"/>
<rect x="1212.2" y="1383.8" width="50.4" height="50.4" fill="#afafaf"/>
<rect x="1262.0" y="1383.8" width="50.4" height="50.4" fill="#d7d7d7"/>
<rect x="1311.8" y="1383.8" width="50.4" height="50.4" fill="#cdcdcd"/>
<rect x="1361.6" y="1383.8" width="100.2" height="50.4" fill="#e1e1e1"/>
<rect x="166.4" y="1433.5" width="150.0" height="50.4" fill="#e9e9e9"/>
<rect x="315.8" y="1433.5" width="50.4" height="50.4" fill="#dfdfdf"/>
<rect x="365.6" y="1433.5" width="50.4" height="50.4" fill="#d0d0d0"/>
<rect x="415.4" y="1433.5" width="50.4" height="50.4" fill="#bebebe"/>
<rect x="465.2" y="1433.5" width="50.4" height="50.4" fill="#afafaf"/>
<rect x="515.0" y="1433.5" width="50.4" height="50.4" fill="#969696"/>
<rect x="564.8" y="1433.5" width="50.4" height="50.4" fill="#7d7d7d"/>
<rect x="614.6" y="1433.5" width="50.4" height="50.4" fill="#646464"/>
<rect x="664.4" y="1433.5" width="50.4" height="50.4" fill="#696969"/>
<rect x="714.2" y="1433.5" width="100.2" height="50.4" fill="#646464"/>
<rect x="813.8" y="1433.5" width="50.4" height="50.4" fill="#5f5f5f"/>
<rect x="863.6" y="1433.5" width="50.4" height="50.4" fill="#646464"/>
<rect x="913.4" y="1433.5" width="100.2" height="50.4" fill="#5a5a5a"/>
<rect x="1013.0" y="1433.5" width="50.4" height="50.4" fill="#646464"/>
<rect x="1062.8" y="1433.5" width="50.4" height="50.4" fill="#5a5a5a"/>
<rect x="1112.6" y="1433.5" width="50.4" height="50.4" fill="#5f5f5f"/>
<rect x="1162.4" y="1433.5" width="50.4" height="50.4" fill="#646464"/>
<rect x="1212.2" y="1433.5" width="50.4" height="50.4" fill="#afafaf"/>
<rect x="1262.0" y="1433.5" width="50.4" height="50.4" fill="#d7d7d7"/>
<rect x="1311.8" y="1433.5" width="50.4" height="50.4" fill="#cdcdcd"/>
<rect x="1361.6" y="1433.5" width="100.2" height="50.4" fill="#e1e1e1"/>
</g>
<g filter="url(#fb)" fill="none" stroke-linecap="round" stroke-linejoin="round">
<path d="M440 340 474 386 501 434 520 465 533 503 554 529 581 558 610 582" stroke="#1e1e1e" stroke-width="30" stroke-opacity="0.5"/>
<path d="M527 300 559 333 591 372 620 412 652 447 679 471 695 487" stroke="#232323" stroke-width="34" stroke-opacity="0.45"/>
<path d="M489 698 503 730 524 766 545 795" stroke="#0f0f0f" stroke-width="36" stroke-opacity="0.75"/>
<path d="M450 855 462 872 470 890" stroke="#141414" stroke-width="40" stroke-opacity="0.7"/>
<path d="M706 670 714 686" stroke="#1e1e1e" stroke-width="30" stroke-opacity="0.6"/>
<path d="M990 372 998 385" stroke="#282828" stroke-width="44" stroke-opacity="0.33"/>
<path d="M872 420 886 440" stroke="#323232" stroke-width="44" stroke-opacity="0.28"/>
</g></g>
<defs><filter id="tx" x="0" y="0" width="100%" height="100%"><feTurbulence type="fractalNoise" baseFrequency="0.04" numOctaves="3" seed="7" result="n"/><feColorMatrix in="n" type="matrix" values="0 0 0 0 0  0 0 0 0 0  0 0 0 0 0  2.4 0 0 0 -1.2"/><feComposite operator="in" in2="SourceGraphic"/></filter><filter id="tx2" x="0" y="0" width="100%" height="100%"><feTurbulence type="fractalNoise" baseFrequency="0.04" numOctaves="3" seed="7" result="n"/><feColorMatrix in="n" type="matrix" values="0 0 0 0 1  0 0 0 0 1  0 0 0 0 1  -2.4 0 0 0 1.2"/><feComposite operator="in" in2="SourceGraphic"/></filter></defs>
<rect x="257" y="306" width="1128" height="1105" fill="#000" filter="url(#tx)" opacity="0.14"/>
<rect x="257" y="306" width="1128" height="1105" fill="#fff" filter="url(#tx2)" opacity="0.14"/>
<path d="M266.0 339V1411M515.5 339V1411M764.5 339V1411M1013.5 339V1411M1262.5 339V1411M266 339.0H1385M266 588.0H1385M266 836.5H1385M266 1085.5H1385M266 1334.0H1385" stroke="#000" stroke-opacity="0.19" stroke-width="1.6" fill="none"/>
<g fill="#8a8aff"><circle cx="769.9" cy="689.8" r="8"/><circle cx="747.6" cy="708.1" r="8"/><circle cx="736.3" cy="993.5" r="8"/><circle cx="718.3" cy="1013.0" r="8"/><circle cx="1045.0" cy="609.0" r="8"/><circle cx="1061.6" cy="628.7" r="8"/></g>
<g fill="#2272a4"><circle cx="791.8" cy="639.0" r="8"/><circle cx="757.4" cy="663.7" r="8"/><circle cx="843.8" cy="653.5" r="8"/></g>
<g fill="#fff"><circle cx="432.5" cy="742.5" r="8"/><circle cx="447.5" cy="765.0" r="8"/><circle cx="597.9" cy="733.9" r="8"/><circle cx="671.8" cy="740.5" r="8"/><circle cx="651.5" cy="774.2" r="8"/><circle cx="667.0" cy="774.8" r="8"/><circle cx="647.7" cy="785.3" r="8"/><circle cx="627.4" cy="786.3" r="8"/><circle cx="701.5" cy="779.8" r="8"/><circle cx="605.9" cy="798.1" r="8"/><circle cx="502.7" cy="811.2" r="8"/><circle cx="603.3" cy="813.0" r="8"/><circle cx="631.6" cy="810.0" r="8"/><circle cx="622.2" cy="817.6" r="8"/><circle cx="651.7" cy="817.6" r="8"/><circle cx="684.5" cy="819.6" r="8"/><circle cx="533.1" cy="829.8" r="8"/><circle cx="623.2" cy="826.6" r="8"/><circle cx="662.2" cy="832.9" r="8"/><circle cx="628.2" cy="835.5" r="8"/><circle cx="579.4" cy="846.3" r="8"/><circle cx="608.6" cy="848.7" r="8"/><circle cx="619.2" cy="846.7" r="8"/><circle cx="627.2" cy="845.5" r="8"/><circle cx="636.1" cy="847.1" r="8"/><circle cx="673.0" cy="844.5" r="8"/><circle cx="671.4" cy="853.1" r="8"/><circle cx="693.9" cy="847.5" r="8"/><circle cx="702.9" cy="844.5" r="8"/><circle cx="699.9" cy="858.4" r="8"/><circle cx="716.8" cy="844.5" r="8"/><circle cx="551.7" cy="854.3" r="8"/><circle cx="506.7" cy="858.2" r="8"/><circle cx="636.7" cy="863.4" r="8"/><circle cx="643.5" cy="876.4" r="8"/><circle cx="667.4" cy="873.6" r="8"/><circle cx="587.1" cy="876.0" r="8"/><circle cx="512.6" cy="881.2" r="8"/><circle cx="495.9" cy="886.9" r="8"/><circle cx="692.1" cy="886.7" r="8"/><circle cx="549.3" cy="905.3" r="8"/><circle cx="597.5" cy="906.3" r="8"/><circle cx="616.8" cy="904.5" r="8"/><circle cx="629.4" cy="905.9" r="8"/><circle cx="648.7" cy="914.8" r="8"/><circle cx="674.6" cy="917.6" r="8"/><circle cx="693.9" cy="910.2" r="8"/><circle cx="701.9" cy="908.2" r="8"/><circle cx="704.9" cy="920.2" r="8"/><circle cx="588.3" cy="922.2" r="8"/><circle cx="595.3" cy="919.2" r="8"/><circle cx="548.7" cy="924.2" r="8"/><circle cx="628.6" cy="923.6" r="8"/><circle cx="640.1" cy="927.2" r="8"/><circle cx="641.1" cy="933.1" r="8"/><circle cx="661.6" cy="925.2" r="8"/><circle cx="696.9" cy="930.2" r="8"/><circle cx="614.6" cy="937.1" r="8"/><circle cx="580.0" cy="940.7" r="8"/><circle cx="602.5" cy="944.1" r="8"/><circle cx="674.0" cy="944.1" r="8"/><circle cx="684.9" cy="941.1" r="8"/><circle cx="697.9" cy="945.1" r="8"/><circle cx="706.9" cy="943.1" r="8"/><circle cx="714.8" cy="944.1" r="8"/><circle cx="682.9" cy="953.1" r="8"/><circle cx="441.9" cy="947.7" r="8"/><circle cx="525.6" cy="949.1" r="8"/><circle cx="545.1" cy="949.5" r="8"/><circle cx="614.2" cy="953.5" r="8"/><circle cx="621.6" cy="953.1" r="8"/><circle cx="704.9" cy="962.4" r="8"/><circle cx="551.5" cy="965.0" r="8"/><circle cx="531.8" cy="968.4" r="8"/><circle cx="580.8" cy="966.6" r="8"/><circle cx="620.0" cy="977.4" r="8"/><circle cx="687.9" cy="982.5" r="8"/><circle cx="480.8" cy="984.3" r="8"/><circle cx="455.9" cy="993.3" r="8"/><circle cx="654.5" cy="991.9" r="8"/><circle cx="546.1" cy="995.3" r="8"/><circle cx="594.9" cy="994.1" r="8"/><circle cx="687.9" cy="997.5" r="8"/><circle cx="663.0" cy="1002.9" r="8"/><circle cx="632.4" cy="1009.2" r="8"/><circle cx="677.4" cy="1012.0" r="8"/><circle cx="473.2" cy="1013.2" r="8"/><circle cx="488.7" cy="1013.2" r="8"/><circle cx="492.7" cy="1012.8" r="8"/><circle cx="589.7" cy="1013.8" r="8"/><circle cx="933.3" cy="645.1" r="8"/><circle cx="854.0" cy="710.7" r="8"/><circle cx="870.1" cy="729.6" r="8"/><circle cx="846.0" cy="742.5" r="8"/><circle cx="832.5" cy="750.9" r="8"/><circle cx="766.3" cy="746.9" r="8"/><circle cx="813.1" cy="776.8" r="8"/><circle cx="725.5" cy="792.2" r="8"/><circle cx="773.5" cy="811.5" r="8"/><circle cx="738.8" cy="906.2" r="8"/><circle cx="741.4" cy="930.1" r="8"/><circle cx="766.9" cy="942.3" r="8"/><circle cx="741.2" cy="959.2" r="8"/><circle cx="769.7" cy="988.5" r="8"/><circle cx="777.7" cy="992.5" r="8"/><circle cx="735.9" cy="1074.5" r="8"/><circle cx="495.4" cy="1032.5" r="8"/><circle cx="509.7" cy="1047.8" r="8"/><circle cx="527.6" cy="1023.9" r="8"/><circle cx="534.6" cy="1019.9" r="8"/><circle cx="526.7" cy="1054.8" r="8"/><circle cx="591.4" cy="1028.5" r="8"/><circle cx="591.8" cy="1039.4" r="8"/><circle cx="653.7" cy="1033.5" r="8"/><circle cx="689.0" cy="1039.8" r="8"/><circle cx="613.3" cy="1041.2" r="8"/><circle cx="597.0" cy="1058.2" r="8"/><circle cx="656.1" cy="1057.2" r="8"/><circle cx="618.7" cy="1067.9" r="8"/><circle cx="589.4" cy="1072.9" r="8"/><circle cx="518.7" cy="1069.7" r="8"/><circle cx="527.6" cy="1071.7" r="8"/><circle cx="524.7" cy="1076.7" r="8"/><circle cx="501.2" cy="1079.7" r="8"/><circle cx="534.6" cy="1089.6" r="8"/><circle cx="561.1" cy="1090.0" r="8"/><circle cx="576.5" cy="1099.0" r="8"/><circle cx="596.0" cy="1097.0" r="8"/><circle cx="661.7" cy="1094.2" r="8"/><circle cx="649.2" cy="1104.6" r="8"/><circle cx="561.1" cy="1105.2" r="8"/><circle cx="533.6" cy="1100.6" r="8"/><circle cx="523.7" cy="1106.6" r="8"/><circle cx="534.6" cy="1116.5" r="8"/><circle cx="576.9" cy="1114.5" r="8"/><circle cx="601.8" cy="1135.5" r="8"/><circle cx="526.7" cy="1135.9" r="8"/><circle cx="518.7" cy="1145.0" r="8"/><circle cx="539.6" cy="1174.9" r="8"/><circle cx="526.1" cy="1182.3" r="8"/><circle cx="534.6" cy="1178.3" r="8"/><circle cx="553.9" cy="1180.9" r="8"/><circle cx="531.6" cy="1201.2" r="8"/><circle cx="547.0" cy="1235.7" r="8"/><circle cx="494.2" cy="1254.4" r="8"/><circle cx="557.9" cy="1255.2" r="8"/><circle cx="567.8" cy="1306.5" r="8"/><circle cx="1051.7" cy="612.8" r="8"/></g>
<path d="M485.6 713.6 472.4 718.6 455.4 720.3 439.9 717.9 425.0 714.9 410.0 717.9 403.7 728.6 407.0 744.8 408.0 757.8 400.5 763.5 404.5 778.5 401.2 789.8 403.7 799.8 413.7 812.2 418.0 829.7 418.7 849.7 421.2 864.7 416.2 882.1 415.0 899.6 417.5 914.6 415.0 930.8 425.0 939.6 429.5 957.1 431.2 976.0 440.0 1011.0 450.0 1015.9 456.9 1025.9 461.9 1039.8 463.9 1053.8 465.9 1062.7 466.9 1079.7 468.9 1093.6 467.9 1107.6 472.9 1119.5 476.9 1137.5M485.6 713.6 488.6 706.9 502.4 704.4 517.3 702.9 526.1 706.1 539.8 698.6 556.0 688.6 562.3 674.9 576.0 656.2 583.5 648.7 597.2 646.2 604.7 635.0 609.7 621.2 619.7 619.5 624.7 626.2 633.4 629.5 647.2 640.0 652.2 653.7 662.2 672.4 673.4 698.6 682.1 699.9 693.4 693.6 708.4 689.9 722.1 681.1 724.6 666.2 735.8 658.7 747.1 646.2 757.0 643.7 776.1 624.9 778.6 617.4 787.4 617.4 793.6 621.2 807.4 618.7 816.1 611.2 829.8 612.4 844.8 609.9 864.8 606.2 882.3 603.7 902.2 600.0 919.7 601.2 937.2 600.4 945.9 591.2 948.4 577.5 964.7 573.7 972.1 567.5 984.6 562.5 991.1 539.9 993.6 528.6 998.6 524.9 1004.9 523.6 1013.6 514.9 1024.8 506.9 1039.8 502.4 1052.3 497.4 1057.3 491.2 1063.5 489.9 1064.8 483.7 1074.8 487.4 1089.8 492.9 1107.2 491.9 1114.7 493.7 1123.5 506.2 1128.5 514.9 1131.0 519.9 1142.2 516.9 1153.4 516.2 1154.7 509.9 1152.2 503.7 1155.9 497.4 1158.4 491.2 1168.4 491.2 1180.9 492.4 1189.6 502.4 1199.6 506.2 1212.1 508.7 1220.8 513.7 1223.3 522.4 1225.8 531.1 1223.3 538.6 1214.6 541.1 1208.4 546.1 1210.9 553.6 1205.9 561.1 1200.9 564.8 1202.1 576.1 1198.4 584.8 1194.6 594.8 1190.9 602.3 1190.9 608.5 1182.1 614.8 1172.2 617.3 1163.4 622.3 1152.2 627.3 1139.7 632.3 1133.5 643.5 1124.7 652.2 1114.7 662.2 1111.0 667.7 1102.2 666.0 1094.8 661.0 1091.0 668.5 1082.3 673.5 1081.0 679.7 1086.0 685.9 1074.8 685.9 1067.3 693.4 1059.8 685.9 1049.8 680.9 1043.6 674.7 1037.3 673.5 1029.8 677.2 1022.3 676.0 1012.4 680.9 1002.4 687.2 992.4 694.7 979.9 703.4 969.9 714.7 959.9 715.9 949.9 717.2 940.0 723.4 930.0 727.1 921.2 729.1 921.0 729.8 929.7 738.5 924.7 749.8 904.7 758.5 903.5 769.7 892.2 783.5 896.0 794.7 889.8 810.9 877.3 808.4 864.8 799.7 854.8 794.7 846.1 783.5 844.8 779.2 839.8 789.7 826.1 797.2 812.3 805.9 799.9 807.2 792.9 803.4 791.1 817.2 779.9 828.4 784.9 837.2 776.1 844.6 774.4 840.9 762.4 843.4M485.6 713.6 489.9 727.3 499.9 739.8 506.1 752.3 508.6 769.8 514.8 784.8 529.8 799.8 539.8 807.2 554.8 812.7 576.0 814.7 592.2 825.5 609.7 823.0 627.2 819.7 642.2 817.7 652.2 818.5 669.7 816.7 672.1 821.0 684.6 826.0 697.1 832.2 707.1 839.7 717.1 843.4 724.6 849.7 725.8 855.9M708.7 689.3 707.5 697.3 717.5 712.3 730.0 724.8 738.7 734.8 736.2 749.8 734.4 758.5 739.9 761.0 732.4 762.2 725.0 772.2 708.7 775.2 705.0 782.2 711.2 799.7 716.2 814.7 721.2 832.2 727.0 847.1 725.7 855.9 730.0 842.1 741.2 834.7 752.4 839.7 762.4 843.4M793.6 621.2 792.4 634.9 786.1 646.1 782.4 659.9 784.4 677.4 791.1 689.8 797.4 703.6 809.9 710.6 799.9 712.3 793.6 709.8 789.9 718.6 794.9 732.3 796.9 748.5 804.9 751.0 817.3 762.2 827.3 772.2 836.1 777.2 844.8 779.2M844.8 610.7 854.8 624.9 866.0 628.7 869.8 637.4 879.8 647.4 894.7 662.4 896.0 677.4 909.7 677.4 914.7 687.3 921.0 702.3 923.5 719.8 921.0 729.8M762.4 843.4 766.2 849.6 763.7 854.6 771.1 864.6 776.1 877.1 771.1 884.6 767.7 860.0 774.7 868.0 775.7 874.9 770.7 881.9 771.7 885.9 776.7 891.9 779.7 900.8 787.6 909.8 788.6 915.8 797.6 913.4 803.6 919.8 808.6 924.7 810.6 931.7 808.6 937.7 813.5 941.3 803.6 942.7 797.6 948.6 789.6 952.6 779.7 954.6 779.7 963.6 779.7 974.5 787.6 982.5 791.6 988.5 788.6 997.5 792.6 1007.4 789.2 1019.4 794.6 1027.3 788.6 1034.3 793.6 1043.3 798.6 1049.2 804.6 1050.2 808.6 1059.2 806.6 1071.2 797.6 1070.2 786.7 1067.2 779.7 1074.1 768.7 1077.1 751.8 1079.1 749.8 1085.1 739.8 1087.1 731.9 1093.1 730.9 1103.0 722.9 1096.1 716.9 1104.0 712.0 1113.0 704.0 1117.0 697.0 1115.5 692.0 1119.5 693.0 1137.5 689.0 1143.4 687.0 1152.4 679.0 1159.4 667.1 1160.4 654.1 1157.4 648.2 1161.4 643.2 1169.3M789.2 1019.4 781.7 1017.4 776.7 1012.4 769.7 1015.4 763.7 1020.0 756.8 1018.4 748.8 1013.4 738.8 1009.4 727.9 1008.4 722.9 1009.8 717.9 1016.4 716.9 1021.4 712.9 1029.3 710.0 1041.3 704.0 1048.2 699.0 1051.8 691.0 1046.8 675.1 1042.8 659.1 1041.8 647.2 1037.8 632.2 1029.9 625.9 1021.9M465.9 1062.7 472.9 1056.8 479.8 1059.4 491.8 1054.2 503.7 1053.4 515.7 1056.8 523.7 1059.8 537.6 1063.3 539.6 1071.7 547.6 1075.7 554.5 1078.7M543.6 1001.0 540.6 1007.0 533.6 1014.9 530.6 1019.9 533.2 1027.9 537.6 1035.9 541.0 1042.4 532.6 1047.4 519.7 1049.8 521.3 1055.4 523.7 1059.8M543.6 1001.0 549.2 1009.0 563.5 1008.4 579.4 1004.0 592.4 1006.0 609.3 1013.5 622.3 1023.9 625.9 1021.9M625.9 1021.9 619.3 1031.9 611.3 1039.8 599.4 1048.8 593.4 1056.8 590.8 1064.1 579.4 1068.7 567.5 1074.7 554.5 1078.7M590.8 1064.1 595.4 1068.7 592.4 1073.7 597.4 1079.7 605.3 1089.6 612.3 1095.6 610.3 1108.6 616.3 1123.5 615.3 1137.5 612.9 1147.8M554.5 1078.7 543.6 1081.7 541.6 1087.6 544.0 1095.6 542.0 1107.6 549.6 1108.6 552.5 1104.6 553.5 1111.6 561.5 1119.5 573.5 1126.5 582.4 1135.5 587.4 1141.8M476.9 1137.5 486.8 1136.1 488.8 1143.4 499.8 1154.4 507.7 1154.4 518.7 1152.4 529.6 1151.4 540.6 1148.4 549.6 1157.4 563.5 1152.4 575.5 1146.4 587.4 1141.8 599.4 1143.4 612.9 1147.8 627.3 1152.4 634.2 1157.4 639.2 1163.3 643.2 1169.3M476.9 1137.5 471.9 1140.4 470.9 1147.4 466.9 1156.4 471.9 1169.3 475.9 1181.3 469.9 1188.2 476.9 1201.2 476.6 1200.0 479.7 1207.8 478.6 1215.6 480.8 1223.4 481.3 1231.2 478.2 1237.4 479.0 1242.1 476.6 1245.2 469.6 1246.0 464.2 1251.4 458.4 1256.1 461.8 1260.8 468.8 1266.2 473.5 1267.8 479.7 1272.5 483.6 1277.9 485.2 1284.2 489.9 1290.4 492.2 1299.7 492.7 1310.6 489.1 1320.0 486.0 1329.3 484.1 1335.6 481.3 1336.8 486.8 1336.8 493.0 1341.8 500.0 1347.3 507.8 1351.2 515.6 1349.6 517.1 1344.1 522.6 1344.1 528.0 1342.1 532.7 1345.7 539.7 1350.4 546.0 1357.4 552.2 1360.5 560.0 1366.7 567.8 1369.9 575.6 1371.1 580.3 1366.7 584.9 1362.1 586.5 1355.8 590.4 1351.9 591.2 1345.7 594.3 1343.4 595.1 1332.5 597.4 1327.0 603.6 1323.9 610.6 1325.1 616.1 1318.4 622.3 1311.4 630.1 1304.4 637.9 1299.7 645.7 1299.0 646.5 1293.5 644.1 1285.7 641.8 1274.8 641.0 1262.3 635.6 1254.5 630.1 1246.8 627.0 1237.4 629.3 1231.9 623.9 1227.3 619.2 1217.1 619.2 1206.2 624.7 1200.0 627.3 1191.2 634.2 1179.3 643.2 1169.3" fill="none" stroke="#000" stroke-width="2" stroke-linejoin="round" stroke-linecap="round"/>
<rect x="255" y="304" width="1132" height="1109" fill="none" stroke="#000" stroke-width="4"/>
<defs><linearGradient id="cb" x1="0" y1="1" x2="0" y2="0">
<stop offset="0" stop-color="#ffffff"/>
<stop offset="0.025" stop-color="#9a9aff"/>
<stop offset="0.052" stop-color="#0000ff"/>
<stop offset="0.062" stop-color="#1428c8"/>
<stop offset="0.08" stop-color="#2a7a8a"/>
<stop offset="0.095" stop-color="#3cb450"/>
<stop offset="0.102" stop-color="#46dc2d"/>
<stop offset="0.2" stop-color="#2d8c1e"/>
<stop offset="0.3" stop-color="#968c0f"/>
<stop offset="0.4" stop-color="#ff8c00"/>
<stop offset="0.5" stop-color="#ff4600"/>
<stop offset="0.6" stop-color="#ff0000"/>
<stop offset="0.7" stop-color="#c00040"/>
<stop offset="0.8" stop-color="#800080"/>
<stop offset="1" stop-color="#640064"/>
</linearGradient></defs>
<rect x="1461.5" y="304.5" width="56" height="1109" fill="url(#cb)" stroke="#000" stroke-width="3"/>
<path d="M1518 304.3H1533M1518 526.3H1533M1518 748.3H1533M1518 970.3H1533M1518 1192.3H1533M1518 1303.3H1533M1518 1413.5H1533" stroke="#000" stroke-width="3.3" fill="none"/>
</svg>
<div class="t" style="left:117.37px;top:319.59px;font-size:44.90px;line-height:44.90px;color:#000;transform:scaleX(1.0366)">6.6°N</div>
<div class="t" style="left:91.17px;top:568.09px;font-size:44.90px;line-height:44.90px;color:#000;transform:scaleX(1.0389)">6.45°N</div>
<div class="t" style="left:117.37px;top:816.59px;font-size:44.90px;line-height:44.90px;color:#000;transform:scaleX(1.0366)">6.3°N</div>
<div class="t" style="left:91.17px;top:1065.59px;font-size:44.90px;line-height:44.90px;color:#000;transform:scaleX(1.0389)">6.15°N</div>
<div class="t" style="left:156.68px;top:1314.59px;font-size:44.90px;line-height:44.90px;color:#000;transform:scaleX(1.0301)">6°N</div>
<div class="t" style="left:189.47px;top:1431.49px;font-size:44.90px;line-height:44.90px;color:#000;transform:scaleX(1.0361)">75.8°W</div>
<div class="t" style="left:425.87px;top:1431.49px;font-size:44.90px;line-height:44.90px;color:#000;transform:scaleX(1.0380)">75.65°W</div>
<div class="t" style="left:687.97px;top:1431.49px;font-size:44.90px;line-height:44.90px;color:#000;transform:scaleX(1.0361)">75.5°W</div>
<div class="t" style="left:923.87px;top:1431.49px;font-size:44.90px;line-height:44.90px;color:#000;transform:scaleX(1.0380)">75.35°W</div>
<div class="t" style="left:1185.97px;top:1431.49px;font-size:44.90px;line-height:44.90px;color:#000;transform:scaleX(1.0361)">75.2°W</div>
<div class="t" style="left:1547.00px;top:282.79px;font-size:44.90px;line-height:44.90px;color:#000;transform:scaleX(1.0126)">10</div>
<div class="t" style="left:1547.30px;top:504.29px;font-size:44.90px;line-height:44.90px;color:#000;transform:scaleX(1.0493)">8</div>
<div class="t" style="left:1547.30px;top:726.29px;font-size:44.90px;line-height:44.90px;color:#000;transform:scaleX(1.0493)">6</div>
<div class="t" style="left:1547.30px;top:948.29px;font-size:44.90px;line-height:44.90px;color:#000;transform:scaleX(1.0493)">4</div>
<div class="t" style="left:1547.30px;top:1170.29px;font-size:44.90px;line-height:44.90px;color:#000;transform:scaleX(1.0493)">2</div>
<div class="t" style="left:1547.30px;top:1281.29px;font-size:44.90px;line-height:44.90px;color:#000;transform:scaleX(1.0493)">1</div>
<div class="t" style="left:1547.30px;top:1391.49px;font-size:44.90px;line-height:44.90px;color:#000;transform:scaleX(1.0493)">0</div>
<div class="t" style="left:1840px;top:1237px;font-size:50px;line-height:50px;transform:rotate(-90deg) scaleX(1.0151)">Acumulado de precipitación (mm)</div>
<svg width="600" height="260" viewBox="0 0 600 260">
<rect x="398.1" y="47.4" width="163" height="163.3" fill="#7eb82a"/>
<rect x="140.1" y="221.9" width="421" height="22.4" fill="#7eb82a"/>
<path d="M233.5 88.6A38.1 38.1 0 1 0 233.5 162.9M144.2 125.2L170.5 126.8M164.4 75.8L183.8 91.5M210.5 52.3L214.7 74.2M163.8 180.2L183.8 163.0M214.7 179.8L210.5 202.5M314.0 93.3A34.2 34.2 0 1 1 323.7 160.5L314.4 160.5" fill="none" stroke="#123a54" stroke-width="10" stroke-linecap="round"/>
<path d="M268.0 60.9A48.8 48.8 0 0 1 314.8 94.8" fill="none" stroke="#123a54" stroke-width="10" stroke-linecap="butt"/>
<path d="M398.1 174.8 398.1 182.8 406.1 177.4 420.5 158.3 430.0 148.2 443.2 131.4 457.5 107.5 468.3 88.4 477.8 75.9 477.0 72.0 473.7 72.9 461.7 89.0 447.4 111.7 431.8 132.6 418.7 147.0 406.7 164.3ZM407.9 145.8 411.5 151.7 415.7 150.6 419.9 148.2 429.4 146.4 440.2 141.6 449.2 138.0 448.6 132.6 437.8 135.6 425.9 139.2 413.9 142.8ZM477.0 66.9 479.0 69.9 482.0 65.7 487.4 57.9 485.6 56.1 482.0 57.9 478.4 63.9ZM473.7 79.4 466.5 97.4 459.9 116.5 454.5 138.0 451.2 154.7 454.5 157.7 459.3 154.7 461.7 147.6 464.7 132.0 468.9 114.1 473.7 96.2 477.8 80.6Z" fill="#fff"/>
<path d="M456.9 153.5Q467.7 135.6 485.6 126.3L479.0 148.2Q482.0 152.9 490.4 147.6M490.4 147.6Q501.2 139.2 503.5 130.8Q497.6 126.1 492.8 135.6Q490.4 146.4 501.2 146.4Q509.5 142.8 514.3 134.4M525.1 128.4Q519.1 122.5 513.1 130.8Q508.3 141.6 516.7 141.6Q523.9 138.0 526.8 127.8Q523.9 139.2 531.0 135.6L545.4 131.4L560.9 127.5" fill="none" stroke="#fff" stroke-width="6" stroke-linecap="round" stroke-linejoin="round"/>
</svg>
<div class="t" style="left:217.30px;top:103.32px;font-size:43.80px;line-height:43.80px;color:#123a54;-webkit-text-stroke:0.7px #123a54;letter-spacing:0.00px;transform:scaleX(0.8620)">SIATA</div>
<div class="t" style="left:415.10px;top:172.78px;font-size:16.80px;line-height:16.80px;color:#fff;font-weight:bold;letter-spacing:0.00px;transform:scaleX(0.9306)">METROPOLITANA</div>
<div class="t" style="left:415.90px;top:188.79px;font-size:18.20px;line-height:18.20px;color:#fff;-webkit-text-stroke:0.35px #fff;letter-spacing:0.00px;transform:scaleX(1.0909)">Valle de Aburrá</div>
<div class="t" style="left:150.00px;top:226.24px;font-size:15.90px;line-height:15.90px;color:#fff;font-weight:bold;letter-spacing:9.00px;transform:scaleX(0.8350)">SISTEMA DE ALERTA TEMPRANA</div>
</body></html>
